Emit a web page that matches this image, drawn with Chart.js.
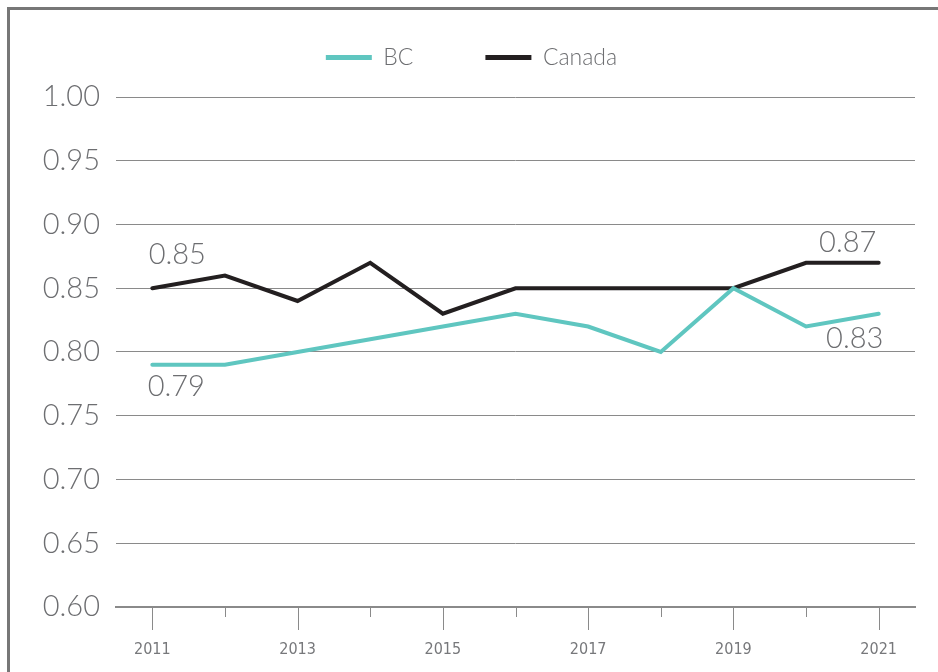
<!DOCTYPE html>
<html>
<head>
<meta charset="utf-8">
<script src="https://cdn.jsdelivr.net/npm/chart.js@4.4.1/dist/chart.umd.min.js"></script>
<style>
  html, body { margin: 0; padding: 0; background: #fff; }
  .wrap { position: relative; width: 938px; height: 672px; }
  .frame {
    position: absolute; left: 7px; top: 7px; right: 0; bottom: 0;
    border-left: 3px solid #777; border-top: 3px solid #777;
  }
  canvas { position: absolute; left: 0; top: 0; }
</style>
</head>
<body>
<div class="wrap">
  <div class="frame"></div>
  <canvas id="lineChart" width="938" height="672"></canvas>
</div>
<script>
const years = ['2011', '2012', '2013', '2014', '2015', '2016', '2017', '2018', '2019', '2020', '2021'];
const bcValues = [0.79, 0.79, 0.80, 0.81, 0.82, 0.83, 0.82, 0.80, 0.85, 0.82, 0.83];
const canadaValues = [0.85, 0.86, 0.84, 0.87, 0.83, 0.85, 0.85, 0.85, 0.85, 0.87, 0.87];

const bcColor = '#5fc6c0';
const canadaColor = '#231f20';
const textColor = '#6d6e71';
const gridColor = '#8a8a8a';

// end-point value labels: [datasetIndex, pointIndex, dx, dy]
const valueLabels = [
  [1, 0, 25, -34],
  [0, 0, 24, 22],
  [1, 10, -31, -20],
  [0, 10, -24, 25],
];

const valueLabelPlugin = {
  id: 'valueLabels',
  afterDatasetsDraw(chart) {
    const ctx = chart.ctx;
    ctx.save();
    ctx.font = '300 29px Lato, "Open Sans", sans-serif';
    ctx.fillStyle = textColor;
    ctx.textAlign = 'center';
    ctx.textBaseline = 'middle';
    valueLabels.forEach(([ds, idx, dx, dy]) => {
      const pt = chart.getDatasetMeta(ds).data[idx];
      const value = chart.data.datasets[ds].data[idx];
      ctx.fillText(value.toFixed(2), pt.x + dx, pt.y + dy);
    });
    ctx.restore();
  },
};

// tick marks under the x axis: long on labelled years, short in between
const xTickPlugin = {
  id: 'xTicks',
  afterDraw(chart) {
    const ctx = chart.ctx;
    const xScale = chart.scales.x;
    const bottom = chart.chartArea.bottom;
    ctx.save();
    ctx.strokeStyle = gridColor;
    ctx.lineWidth = 1;
    years.forEach((year, i) => {
      const x = Math.round(xScale.getPixelForValue(i)) + 0.5;
      ctx.beginPath();
      ctx.moveTo(x, bottom);
      ctx.lineTo(x, bottom + (i % 2 === 0 ? 23 : 10));
      ctx.stroke();
    });
    ctx.restore();
  },
};

// leave some extra room between the legend and the plot
const legendSpacePlugin = {
  id: 'legendSpace',
  afterInit(chart) {
    const legend = chart.legend;
    const fit = legend.fit;
    legend.fit = function () {
      fit.call(this);
      this.height += 18;
    };
  },
};

const renderChart = () => {
  const canvas = document.getElementById('lineChart');

  new Chart(canvas, {
    type: 'line',
    data: {
      labels: years,
      datasets: [
        {
          label: 'BC',
          data: bcValues,
          borderColor: bcColor,
          backgroundColor: bcColor,
          borderWidth: 4,
          pointRadius: 0,
          tension: 0,
          borderCapStyle: 'round',
        },
        {
          label: 'Canada',
          data: canadaValues,
          borderColor: canadaColor,
          backgroundColor: canadaColor,
          borderWidth: 4,
          pointRadius: 0,
          tension: 0,
          borderCapStyle: 'round',
        },
      ],
    },
    options: {
      responsive: false,
      animation: false,
      layout: { padding: { left: 28, right: 23, top: -26, bottom: 0 } },
      plugins: {
        tooltip: { enabled: false },
        legend: {
          position: 'top',
          labels: {
            boxWidth: 46,
            boxHeight: 5,
            useBorderRadius: true,
            borderRadius: 2.5,
            padding: 72,
            color: textColor,
            font: { family: 'Lato, "Open Sans", sans-serif', size: 23, weight: '300' },
            generateLabels(chart) {
              return chart.data.datasets.map((ds, i) => ({
                text: ds.label,
                fillStyle: ds.borderColor,
                strokeStyle: ds.borderColor,
                lineWidth: 0,
                fontColor: textColor,
                datasetIndex: i,
              }));
            },
          },
        },
      },
      scales: {
        x: {
          offset: true,
          grid: { display: false },
          border: { display: true, color: gridColor, width: 2 },
          ticks: {
            autoSkip: false,
            maxRotation: 0,
            padding: 25,
            color: '#77787b',
            font: { family: '"Liberation Sans Narrow", "DejaVu Sans Condensed", sans-serif', size: 16 },
            callback: (value, index) => (index % 2 === 0 ? years[index] : ''),
          },
          afterFit(scale) {
            scale.height = 65;
          },
        },
        y: {
          min: 0.6,
          max: 1.0,
          ticks: {
            stepSize: 0.05,
            padding: 16,
            color: textColor,
            font: { family: 'Lato, "Open Sans", sans-serif', size: 29, weight: '300' },
            callback: (value) => value.toFixed(2),
          },
          grid: { color: gridColor, lineWidth: 1, drawTicks: false },
          border: { display: false },
          afterFit(scale) {
            scale.width = 88;
          },
        },
      },
    },
    plugins: [valueLabelPlugin, xTickPlugin, legendSpacePlugin],
  });
};

renderChart();
</script>
</body>
</html>
